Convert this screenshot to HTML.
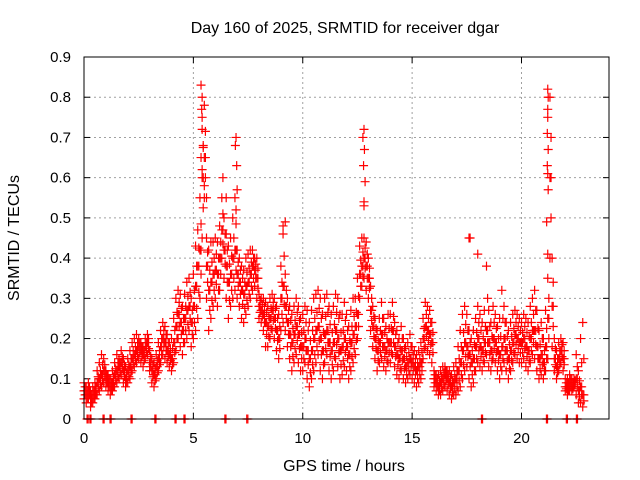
<!DOCTYPE html>
<html><head><meta charset="utf-8"><style>
html,body{margin:0;padding:0;background:#fff;width:640px;height:480px;overflow:hidden}
svg{display:block;font-family:"Liberation Sans",sans-serif}
</style></head><body>
<svg id="chart" width="640" height="480" viewBox="0 0 640 480">
<text x="345" y="33" font-size="16" text-anchor="middle">Day 160 of 2025, SRMTID for receiver dgar</text>
<text x="344" y="471" font-size="16" text-anchor="middle">GPS time / hours</text>
<text x="0" y="0" font-size="16" text-anchor="middle" transform="translate(19,238) rotate(-90)">SRMTID / TECUs</text>
<g id="grid"></g>
<g id="ticks"></g>
<g id="points"></g>
<rect x="84" y="57" width="525" height="362" fill="none" stroke="#000" stroke-width="1"/>
</svg>
<script>
const xTicks=[0,5,10,15,20];
const yTicks=[0,0.1,0.2,0.3,0.4,0.5,0.6,0.7,0.8,0.9];
const yTickLabels=["0","0.1","0.2","0.3","0.4","0.5","0.6","0.7","0.8","0.9"];
const slotStart=0, slotStep=0.1;
const tecLow=[.05,.04,.05,.03,.04,.05,.06,.07,.08,.09,
.08,.07,.06,.07,.08,.09,.10,.11,.09,.08,
.09,.10,.12,.13,.14,.15,.14,.13,.15,.16,
.12,.09,.08,.10,.12,.14,.16,.15,.14,.13,
.12,.14,.17,.20,.18,.16,.19,.20,.22,.18,
.20,.22,.25,.30,.45,.55,.30,.22,.25,.28,
.30,.28,.32,.40,.35,.30,.25,.28,.30,.32,
.30,.28,.25,.24,.26,.28,.30,.32,.33,.30,
.25,.24,.22,.18,.18,.20,.22,.20,.17,.15,
.22,.24,.22,.18,.15,.12,.14,.16,.14,.12,
.12,.14,.10,.08,.10,.12,.14,.16,.12,.10,
.14,.16,.12,.10,.12,.15,.13,.10,.11,.13,
.12,.10,.12,.14,.16,.20,.30,.33,.35,.32,
.30,.22,.18,.15,.12,.14,.15,.13,.12,.14,
.14,.16,.13,.11,.10,.12,.10,.09,.10,.11,
.10,.09,.08,.09,.10,.15,.18,.17,.16,.14,
.08,.07,.06,.06,.07,.08,.07,.06,.05,.06,
.06,.07,.08,.10,.12,.13,.10,.08,.09,.12,
.14,.13,.12,.14,.16,.13,.12,.15,.14,.12,
.10,.12,.14,.12,.10,.12,.14,.16,.15,.14,
.14,.15,.13,.12,.14,.16,.15,.12,.10,.11,
.10,.12,.15,.40,.18,.12,.10,.12,.14,.12,
.07,.06,.07,.07,.08,.06,.04,.04,.03];
const tecMid=[.07,.06,.07,.05,.06,.07,.09,.10,.11,.12,
.10,.09,.08,.09,.11,.12,.13,.14,.12,.10,
.12,.13,.15,.16,.17,.18,.17,.16,.18,.19,
.14,.12,.11,.13,.15,.18,.20,.19,.17,.16,
.15,.19,.23,.26,.24,.22,.25,.27,.28,.24,
.28,.33,.38,.42,.60,.65,.38,.32,.34,.36,
.37,.36,.40,.47,.42,.38,.34,.36,.40,.42,
.36,.34,.32,.31,.33,.34,.36,.38,.37,.35,
.28,.27,.26,.24,.23,.25,.27,.25,.22,.20,
.30,.33,.28,.24,.21,.19,.21,.23,.21,.18,
.18,.20,.17,.15,.17,.20,.22,.23,.20,.17,
.21,.22,.19,.17,.19,.22,.20,.17,.18,.20,
.18,.16,.19,.21,.23,.26,.36,.38,.40,.38,
.35,.27,.23,.20,.17,.19,.21,.18,.17,.19,
.19,.22,.18,.16,.15,.17,.15,.13,.14,.15,
.14,.13,.12,.13,.14,.20,.23,.22,.21,.19,
.10,.09,.08,.09,.10,.11,.10,.09,.08,.09,
.10,.12,.14,.17,.19,.18,.16,.14,.15,.18,
.20,.18,.17,.19,.22,.19,.17,.20,.19,.17,
.16,.18,.20,.17,.15,.17,.19,.21,.20,.19,
.19,.20,.18,.17,.20,.22,.22,.18,.15,.16,
.14,.18,.25,.60,.28,.15,.13,.15,.17,.15,
.08,.08,.09,.08,.09,.10,.07,.08,.06];
const tecHigh=[.09,.08,.09,.07,.08,.09,.12,.14,.16,.15,
.12,.11,.10,.12,.14,.16,.15,.17,.15,.13,
.15,.17,.19,.20,.21,.20,.19,.18,.20,.21,
.17,.15,.14,.16,.19,.22,.24,.23,.21,.19,
.20,.25,.30,.32,.31,.28,.31,.34,.35,.30,
.36,.43,.47,.55,.75,.78,.45,.42,.44,.44,
.45,.44,.48,.55,.50,.46,.43,.45,.50,.55,
.42,.40,.38,.37,.40,.41,.42,.42,.40,.40,
.31,.30,.30,.29,.28,.30,.31,.30,.28,.26,
.38,.48,.36,.30,.28,.26,.28,.30,.28,.25,
.26,.28,.27,.24,.27,.30,.31,.32,.30,.26,
.30,.31,.28,.26,.28,.31,.30,.26,.26,.29,
.26,.23,.27,.30,.30,.35,.43,.45,.45,.44,
.40,.33,.28,.25,.22,.25,.29,.25,.23,.26,
.26,.29,.24,.22,.20,.23,.20,.18,.19,.21,
.18,.17,.16,.17,.19,.25,.29,.28,.27,.24,
.12,.11,.11,.12,.13,.13,.12,.12,.11,.13,
.14,.18,.22,.26,.28,.26,.22,.20,.22,.25,
.28,.26,.24,.27,.38,.27,.24,.28,.26,.23,
.25,.32,.28,.24,.22,.24,.26,.27,.26,.25,
.24,.26,.25,.24,.28,.30,.32,.27,.22,.24,
.20,.27,.35,.80,.40,.20,.17,.19,.20,.19,
.10,.10,.11,.10,.10,.16,.12,.20,.24];
const spikeHours=[5.35,5.4,5.38,5.4,5.45,5.35,5.4,5.5,6.35,6.5,6.95,6.92,6.98,7.0,6.95,12.8,12.75,12.82,12.78,12.85,12.8,12.8,21.2,21.22,21.2,21.2,21.18,21.22,21.18,21.2,21.22,21.15,21.2,17.6,17.65,18.0,5.6,9.2,9.1];
const spikeValues=[.83,.80,.77,.72,.68,.65,.62,.58,.60,.55,.70,.68,.63,.57,.52,.72,.70,.67,.63,.59,.54,.53,.82,.80,.77,.75,.71,.67,.63,.61,.57,.49,.41,.45,.45,.41,.55,.49,.46];
const zeroHours=[.14,.27,.87,1.19,2.15,3.24,4.16,4.57,6.44,7.44,18.17,21.14,22.05,22.51];

const X0=84,X1=609,Y0=419,Y1=57,XMAX=24,YMAX=0.9;
const xs=h=>X0+(X1-X0)*h/XMAX;
const ys=v=>Y0-(Y0-Y1)*v/YMAX;
const NS="http://www.w3.org/2000/svg";
function mk(tag,attrs,parent){const e=document.createElementNS(NS,tag);for(const k in attrs)e.setAttribute(k,attrs[k]);parent.appendChild(e);return e;}
const grid=document.getElementById('grid'),ticks=document.getElementById('ticks'),pts=document.getElementById('points');
xTicks.forEach(t=>{const x=xs(t);
 if(t>0){const g=mk('line',{x1:x,x2:x,y1:Y1,y2:Y0,stroke:'#a0a0a0','stroke-dasharray':'2,3'},grid);
 
 }
 mk('line',{x1:x,x2:x,y1:Y0,y2:Y0-6,stroke:'#000'},ticks);
 mk('line',{x1:x,x2:x,y1:Y1,y2:Y1+6,stroke:'#000'},ticks);
 const l=mk('text',{x:x,y:443,'font-size':15,'text-anchor':'middle'},ticks);l.textContent=t;
 
 
});
yTicks.forEach((t,i)=>{const y=ys(t);
 if(i>0&&i<yTicks.length-1){const g=mk('line',{x1:X0,x2:X1,y1:y,y2:y,stroke:'#a0a0a0','stroke-dasharray':'2,3'},grid);
 
 }
 mk('line',{x1:X0,x2:X0+6,y1:y,y2:y,stroke:'#000'},ticks);
 mk('line',{x1:X1,x2:X1-6,y1:y,y2:y,stroke:'#000'},ticks);
 const l=mk('text',{x:71,y:y+5,'font-size':15,'text-anchor':'end'},ticks);l.textContent=yTickLabels[i];
 
 
});
function plus(h,v){const x=xs(h),y=ys(v);
 const p=mk('path',{d:`M${x-4.5},${y}h9M${x},${y-4.5}v9`,stroke:'#f00','stroke-width':1.2,fill:'none'},pts);
 
 
}
[tecLow,tecMid,tecHigh].forEach(arr=>arr.forEach((v,i)=>{const h=slotStart+i*slotStep;plus(h,v);plus(h+0.05,(v+(tecMid[i]||v))/2);}));
spikeHours.forEach((h,i)=>plus(h,spikeValues[i]));
zeroHours.forEach(h=>{plus(h,0);plus(h+0.05,0);});
</script>
</body></html>
